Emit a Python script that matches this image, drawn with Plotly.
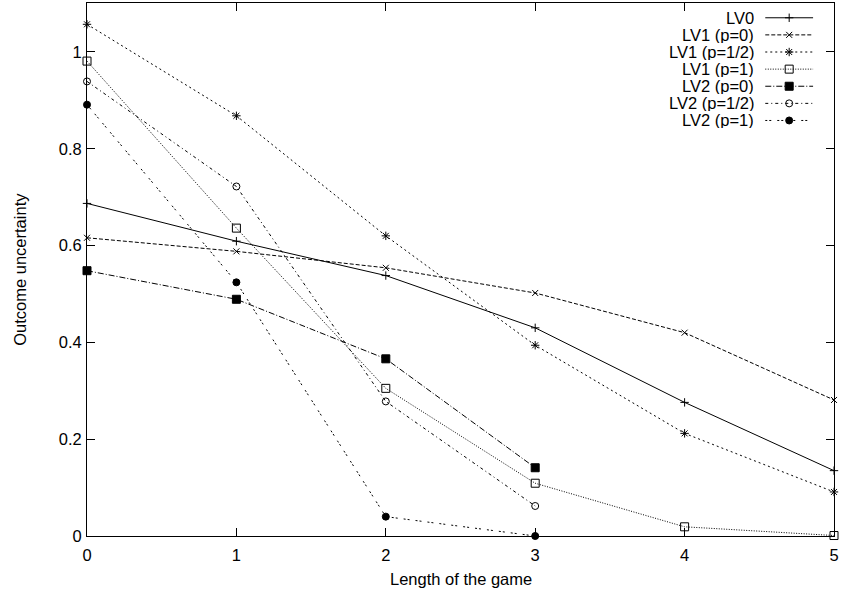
import plotly.graph_objects as go

# ---------------- data ----------------
lengths = [0, 1, 2, 3, 4, 5]
lengths_short = [0, 1, 2, 3]

lv0 = [0.687, 0.609, 0.538, 0.430, 0.276, 0.135]
lv1_p0 = [0.616, 0.588, 0.554, 0.502, 0.420, 0.281]
lv1_phalf = [1.057, 0.868, 0.620, 0.394, 0.212, 0.091]
lv1_p1 = [0.981, 0.636, 0.305, 0.109, 0.019, 0.001]
lv2_p0 = [0.548, 0.489, 0.366, 0.141]
lv2_phalf = [0.939, 0.722, 0.278, 0.062]
lv2_p1 = [0.891, 0.524, 0.040, 0.000]

series_names = ["LV0", "LV1 (p=0)", "LV1 (p=1/2)", "LV1 (p=1)",
                "LV2 (p=0)", "LV2 (p=1/2)", "LV2 (p=1)"]

x_ticks = [0, 1, 2, 3, 4, 5]
y_ticks = [0, 0.2, 0.4, 0.6, 0.8, 1.0]
y_tick_text = ["0", "0.2", "0.4", "0.6", "0.8", "1"]
x_title = "Length of the game"
y_title = "Outcome uncertainty"

# ---------------- styles ----------------
FONT = "Liberation Sans, Arial, Helvetica, sans-serif"
FS = 16.5
styles = [
    dict(dash="solid", symbol="cross-thin", size=6, lw=1.0),
    dict(dash="4px,2px", symbol="x-thin", size=6, lw=1.0),
    dict(dash="2px,3px", symbol="asterisk-open", size=7, lw=1.0),
    dict(dash="1px,1.5px", symbol="square-open", size=8, lw=1.0),
    dict(dash="6px,2px,1px,2px", symbol="square", size=8, lw=1.0),
    dict(dash="3px,3px,1px,3px", symbol="circle-open", size=7, lw=1.0),
    dict(dash="2px,2px,2px,6px", symbol="circle", size=7, lw=1.0),
]
datasets = [
    (lengths, lv0), (lengths, lv1_p0), (lengths, lv1_phalf), (lengths, lv1_p1),
    (lengths_short, lv2_p0), (lengths_short, lv2_phalf), (lengths_short, lv2_p1),
]

W, H = 841, 593
L, R, T, B = 87, 837, 2, 536


def px_x(p):
    return (p - L) / (R - L)


def px_y(p):
    return (B - p) / (B - T)


fig = go.Figure()
for name, (xs, ys), st in zip(series_names, datasets, styles):
    fig.add_trace(go.Scatter(
        x=xs, y=ys, mode="lines+markers", name=name, showlegend=False,
        line=dict(color="black", width=st["lw"], dash=st["dash"]),
        marker=dict(symbol=st["symbol"], size=st["size"], color="black",
                    line=dict(color="black", width=1)),
        cliponaxis=False,
    ))

# ---------------- custom legend (pixel-coordinate overlay axes) ----------------
leg_text_right = 758
leg_line_x0, leg_line_x1 = 768, 816
leg_y0, leg_dy = 16.8, 17.15
for i, (name, st) in enumerate(zip(series_names, styles)):
    yy = leg_y0 + i * leg_dy
    xm = (leg_line_x0 + leg_line_x1) / 2
    fig.add_trace(go.Scatter(
        x=[leg_line_x0, leg_line_x1], y=[yy, yy], mode="lines",
        xaxis="x2", yaxis="y2", showlegend=False, hoverinfo="skip",
        line=dict(color="black", width=st["lw"], dash=st["dash"]),
        cliponaxis=False,
    ))
    fig.add_trace(go.Scatter(
        x=[xm], y=[yy], mode="markers",
        xaxis="x2", yaxis="y2", showlegend=False, hoverinfo="skip",
        marker=dict(symbol=st["symbol"], size=st["size"], color="black",
                    line=dict(color="black", width=1)),
        cliponaxis=False,
    ))
    fig.add_annotation(x=px_x(leg_text_right), y=px_y(yy), xref="paper", yref="paper",
                       text=name, showarrow=False, xanchor="right",
                       yanchor="middle", borderpad=0, height=16, align="right",
                       font=dict(family=FONT, size=FS, color="black"))

# axis titles
fig.add_annotation(x=px_x((L + R) / 2), y=px_y(579), xref="paper", yref="paper",
                   text=x_title, showarrow=False, xanchor="center", yanchor="middle",
                   font=dict(family=FONT, size=FS, color="black"))
fig.add_annotation(x=px_x(19), y=px_y((T + B) / 2), xref="paper", yref="paper",
                   text=y_title, showarrow=False, xanchor="center", yanchor="middle",
                   textangle=-90,
                   font=dict(family=FONT, size=FS, color="black"))

axis_common = dict(showgrid=False, zeroline=False, showline=True,
                   linecolor="black", linewidth=1, mirror="ticks",
                   ticks="inside", ticklen=8, tickwidth=1, tickcolor="black",
                   ticklabeloverflow="allow",
                   tickfont=dict(family=FONT, size=FS, color="black"))

fig.update_layout(
    width=W, height=H,
    margin=dict(l=L, r=W - R, t=T, b=H - B, pad=0),
    paper_bgcolor="white", plot_bgcolor="white",
    showlegend=False,
    xaxis=dict(range=[0, 5], tickvals=x_ticks, ticktext=[str(v) for v in x_ticks],
               ticklabelstandoff=4, **axis_common),
    yaxis=dict(range=[0, 1.101], tickvals=y_ticks, ticktext=y_tick_text,
               ticklabelstandoff=1, **axis_common),
    xaxis2=dict(overlaying="x", range=[L, R], visible=False),
    yaxis2=dict(overlaying="y", range=[B, T], visible=False),
)

fig.write_html("out.html")
